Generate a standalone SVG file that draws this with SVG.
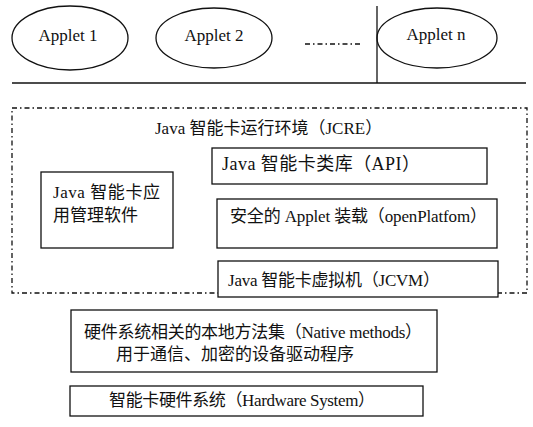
<svg xmlns="http://www.w3.org/2000/svg" width="533" height="427" viewBox="0 0 533 427">
<style>
.s{fill:none;stroke:#111;stroke-width:1.3}
.b{fill:#fff;stroke:#111;stroke-width:1.3}
.t{font-family:"Liberation Serif","Noto Sans CJK SC",serif;font-size:17px;fill:#111}
.m{font-size:18px}
.a{font-family:"Liberation Serif",serif;font-size:17px;fill:#111;text-anchor:middle}
.dd{fill:none;stroke:#111;stroke-width:1.3;stroke-dasharray:5 3 1.5 3}
</style>
<rect width="533" height="427" fill="#fff"/>
<g id="connectors">
<line class="s" x1="377" y1="6" x2="377" y2="83"/>
<line class="s" x1="12" y1="83" x2="526" y2="83"/>
<line class="dd" x1="305" y1="44" x2="362" y2="44"/>
</g>
<g id="applet1"><ellipse class="s" cx="70" cy="38" rx="58" ry="32"/><text class="a" x="68" y="41">Applet 1</text></g>
<g id="applet2"><ellipse class="s" cx="214" cy="38" rx="58" ry="30"/><text class="a" x="214" y="41">Applet 2</text></g>
<g id="appletn"><ellipse class="s" cx="437" cy="38" rx="60" ry="30"/><text class="a" x="436" y="40">Applet n</text></g>
<g id="jcre">
<rect class="dd" x="12" y="108" width="515" height="185"/>
<text class="t" x="155" y="134">Java 智能卡运行环境（JCRE）</text>
</g>
<g id="api"><rect class="b" x="212" y="148" width="275" height="36"/><text class="t m" x="222" y="170" textLength="198" lengthAdjust="spacing">Java 智能卡类库（API）</text></g>
<g id="mgmt"><rect class="b" x="41" y="172" width="132" height="76"/><text class="t" x="53" y="198" textLength="107" lengthAdjust="spacing">Java 智能卡应</text><text class="t" x="53" y="221">用管理软件</text></g>
<g id="loader"><rect class="b" x="217" y="199" width="280" height="49"/><text class="t" x="230" y="222" textLength="257" lengthAdjust="spacing">安全的 Applet 装载（openPlatfom）</text></g>
<g id="jcvm"><rect class="b" x="218" y="261" width="280" height="36"/><text class="t" x="228" y="286" textLength="212" lengthAdjust="spacing">Java 智能卡虚拟机（JCVM）</text></g>
<g id="native"><rect class="b" x="71" y="310" width="366" height="62"/><text class="t" x="84" y="338" textLength="338" lengthAdjust="spacing">硬件系统相关的本地方法集（Native methods）</text><text class="t" x="235" y="360" text-anchor="middle">用于通信、加密的设备驱动程序</text></g>
<g id="hardware"><rect class="b" x="70" y="386" width="353" height="30"/><text class="t" x="109" y="406" textLength="266" lengthAdjust="spacing">智能卡硬件系统（Hardware System）</text></g>
</svg>
